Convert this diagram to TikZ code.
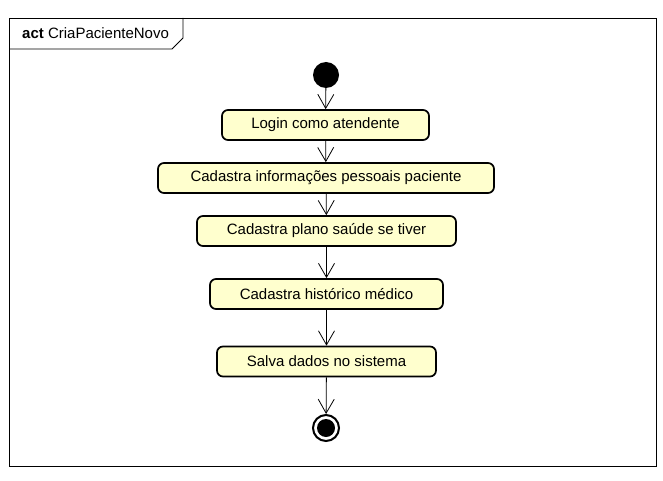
\documentclass[tikz,border=0pt]{standalone}
\usepackage{fontspec}
\setmainfont{Liberation Sans}
\usetikzlibrary{arrows.meta}
\definecolor{actfill}{RGB}{255,255,206}

\tikzset{
  action/.style={draw, line width=1.7pt, rounded corners=6pt, fill=actfill,
    minimum height=30pt, inner sep=0pt, font=\fontsize{15}{17}\selectfont},
  flow/.style={-{Straight Barb[length=14pt,width=16pt]}, line width=0.8pt},
}

\begin{document}
\begin{tikzpicture}[x=1pt, y=-1pt]
\useasboundingbox[fill=white] (0,0) rectangle (663,481);

% frame
\draw[line width=0.9pt] (9,18) rectangle (656,466);
\draw[line width=0.9pt] (9,49) -- (172,49) -- (183,38) -- (183,18);
\node[anchor=west, inner sep=0pt, font=\fontsize{15}{17}\selectfont] (title) at (22,33)
  {\textbf{act} CriaPacienteNovo};

% start and end
\node[circle, fill=black, minimum size=26pt, inner sep=0pt] (start) at (326,75) {};
\node[circle, draw, line width=2pt, minimum size=26pt, inner sep=0pt] (stop) at (326,428) {};
\fill (stop.center) circle (9);

% actions
\node[action, minimum width=207pt] (login) at (325.5,125) {Login como atendente};
\node[action, minimum width=336pt] (pessoais) at (326,178) {Cadastra informações pessoais paciente};
\node[action, minimum width=259pt] (plano) at (326.5,231) {Cadastra plano saúde se tiver};
\node[action, minimum width=233pt] (historico) at (326.5,294) {Cadastra histórico médico};
\node[action, minimum width=219pt] (salva) at (326.5,361.5) {Salva dados no sistema};

% flows
\draw[flow] (start) -- (login);
\draw[flow] (login) -- (pessoais);
\draw[flow] (pessoais) -- (plano);
\draw[flow] (plano) -- (historico);
\draw[flow] (historico) -- (salva);
\draw[flow] (salva) -- (stop);

\end{tikzpicture}
\end{document}
